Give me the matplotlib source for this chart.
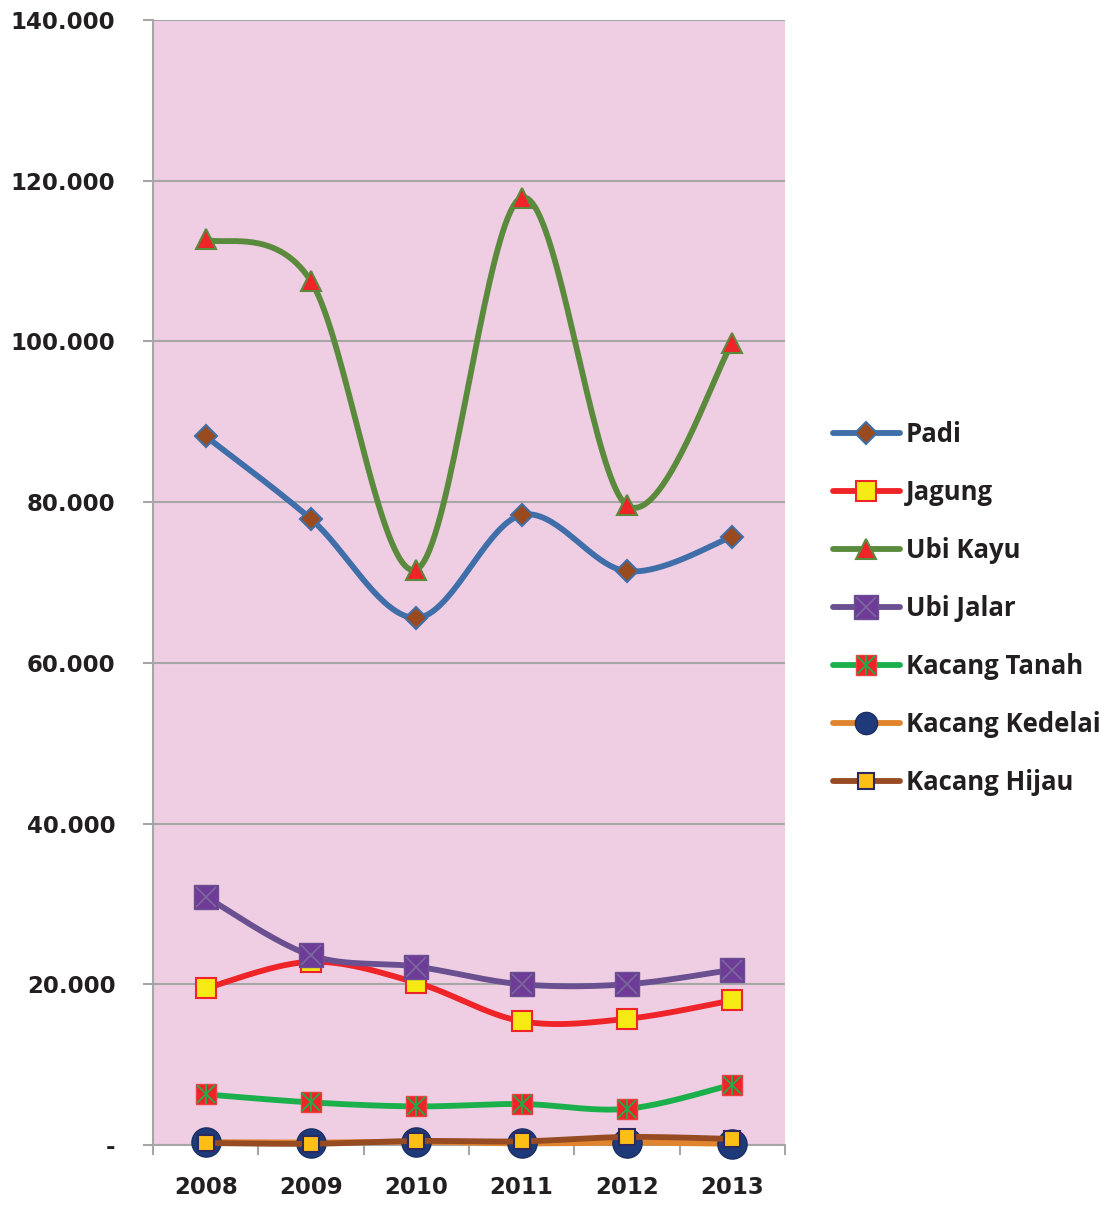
import numpy as np
import matplotlib
matplotlib.use("Agg")
import matplotlib.pyplot as plt
from matplotlib.lines import Line2D
from matplotlib.legend_handler import HandlerTuple
from matplotlib.ticker import FuncFormatter, MultipleLocator

years = ["2008", "2009", "2010", "2011", "2012", "2013"]

padi = [88200, 77900, 65600, 78400, 71400, 75700]
jagung = [19500, 22800, 20200, 15400, 15700, 18000]
ubi_kayu = [112700, 107500, 71600, 117900, 79600, 99800]
ubi_jalar = [30900, 23600, 22200, 20000, 20000, 21800]
kacang_tanah = [6300, 5300, 4800, 5100, 4500, 7500]
kacang_kedelai = [350, 300, 400, 200, 300, 150]
kacang_hijau = [250, 150, 500, 450, 1000, 750]


def smooth(y, n=40):
    # excel-style smooth line (catmull-rom bezier)
    y = np.asarray(y, dtype=float)
    x = np.arange(len(y), dtype=float)
    pts = np.column_stack([x, y])
    out = []
    for i in range(len(pts) - 1):
        p0 = pts[i - 1] if i > 0 else pts[i]
        p1 = pts[i]
        p2 = pts[i + 1]
        p3 = pts[i + 2] if i + 2 < len(pts) else pts[i + 1]
        c1 = p1 + (p2 - p0) / 6
        c2 = p2 - (p3 - p1) / 6
        t = np.linspace(0, 1, n)[:, None]
        seg = ((1 - t) ** 3) * p1 + 3 * ((1 - t) ** 2) * t * c1 + 3 * (1 - t) * t ** 2 * c2 + t ** 3 * p2
        out.append(seg if i == 0 else seg[1:])
    seg = np.vstack(out)
    return seg[:, 0], seg[:, 1]


fig = plt.figure(figsize=(11.19, 12.05), dpi=100)
ax = fig.add_axes([0.1367, 0.0498, 0.5648, 0.9336])
ax.set_facecolor("#EFCDE3")

LW = 4.2
series = [
    ("Padi", padi, "#3F6EA8",
     [dict(marker="D", ms=11, mfc="#9A4A1F", mec="#3F6EA8", mew=1.5)]),
    ("Jagung", jagung, "#EE2428",
     [dict(marker="s", ms=14, mfc="#F5EA14", mec="#EE2428", mew=1.5)]),
    ("Ubi Kayu", ubi_kayu, "#5A8A3C",
     [dict(marker="^", ms=15, mfc="#EE2428", mec="#5A8A3C", mew=1.5)]),
    ("Ubi Jalar", ubi_jalar, "#6A5090",
     [dict(marker="s", ms=17, mfc="#6F3B98", mec="#6A5090", mew=1.0),
      dict(marker="x", ms=15, mfc="none", mec="#7A6A9A", mew=1.2)]),
    ("Kacang Tanah", kacang_tanah, "#1BB04C",
     [dict(marker="s", ms=15, mfc="#EE2428", mec="#EE4040", mew=1.0),
      dict(marker="x", ms=13, mfc="none", mec="#1BB04C", mew=1.3),
      dict(marker="|", ms=15, mfc="none", mec="#1BB04C", mew=1.3)]),
    ("Kacang Kedelai", kacang_kedelai, "#E0852E",
     [dict(marker="o", ms=21, mfc="#1F3A7A", mec="#1A2F60", mew=1.0)]),
    ("Kacang Hijau", kacang_hijau, "#964B22",
     [dict(marker="s", ms=11.5, mfc="#FDBE16", mec="#2A2A60", mew=1.5)]),
]

handles = []
labels = []
x = np.arange(len(years))
for i, (name, vals, col, marks) in enumerate(series):
    z = 3 + i
    sx, sy = smooth(vals)
    ax.plot(sx, sy, color=col, lw=LW, solid_capstyle="round", zorder=z, clip_on=False)
    parts = [Line2D([], [], color=col, lw=LW, solid_capstyle="round")]
    for m in marks:
        ax.plot(x, vals, ls="none", zorder=z + 0.5, clip_on=False, **m)
        lm = dict(m)
        if name == "Kacang Kedelai":
            lm["ms"] = 16
        parts.append(Line2D([], [], ls="none", **lm))
    handles.append(tuple(parts))
    labels.append(name)

ax.set_xlim(-0.5, 5.5)
ax.set_ylim(0, 140000)
ax.yaxis.set_major_locator(MultipleLocator(20000))
ax.yaxis.set_major_formatter(FuncFormatter(
    lambda v, p: "-" if v == 0 else f"{int(v):,}".replace(",", ".")))
ax.grid(axis="y", color="#A6A6A6", lw=1.5, zorder=1)
ax.set_axisbelow(True)

ax.set_xticks(x)
ax.set_xticklabels(years)
ax.set_xticks(np.arange(-0.5, 6, 1), minor=True)
ax.tick_params(axis="x", which="major", length=0, pad=22)
ax.tick_params(axis="x", which="minor", length=7, width=1.5, color="#A6A6A6", direction="out")
ax.tick_params(axis="y", length=7, width=1.5, color="#A6A6A6", direction="out", pad=20)

for lab in ax.get_xticklabels() + ax.get_yticklabels():
    lab.set_fontfamily("DejaVu Sans")
    lab.set_fontweight("bold")
    lab.set_fontsize(16.5)
    lab.set_color("#231F20")

for s in ["top", "right"]:
    ax.spines[s].set_visible(False)
for s in ["left", "bottom"]:
    ax.spines[s].set_color("#A6A6A6")
    ax.spines[s].set_linewidth(1.5)

leg = fig.legend(handles, labels, handler_map={tuple: HandlerTuple(ndivide=1, pad=0)},
                 loc="upper left", bbox_to_anchor=(0.7235, 0.6695), frameon=False,
                 prop={"family": "Open Sans", "weight": "bold", "size": 18.5},
                 handlelength=2.6, handletextpad=0.25, labelspacing=1.205)
for t in leg.get_texts():
    t.set_color("#231F20")

fig.savefig("out.png", dpi=100)
